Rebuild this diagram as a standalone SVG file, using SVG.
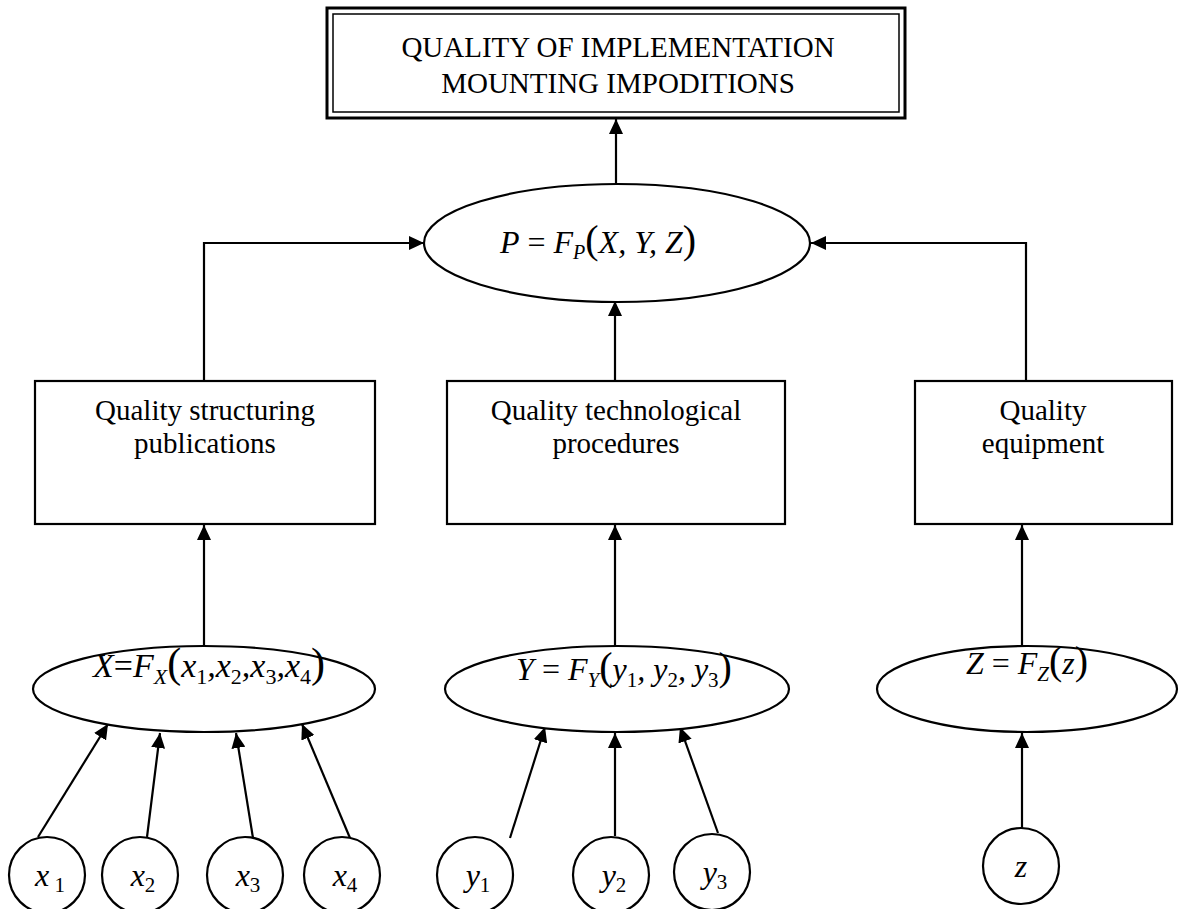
<svg xmlns="http://www.w3.org/2000/svg" width="1197" height="909" viewBox="0 0 1197 909">
<defs>
<marker id="ah" viewBox="0 0 15 14" refX="15" refY="7" markerWidth="15" markerHeight="14" markerUnits="userSpaceOnUse" orient="auto"><path d="M0,0 L15,7 L0,14 Z" fill="#000"/></marker>
</defs>
<style>
.ln{stroke:#000;stroke-width:2.2;fill:none;marker-end:url(#ah)}
.shape{fill:#fff;stroke:#000;stroke-width:2.2}
.t{font-family:"Liberation Serif","Times New Roman",serif;font-size:29px;fill:#000;text-anchor:middle}
.m{font-family:"Liberation Serif","Times New Roman",serif;font-style:italic;fill:#000;text-anchor:middle}
.n{font-style:normal}
</style>
<g id="connectors">
<line class="ln" x1="616" y1="183" x2="616" y2="119"/>
<polyline class="ln" points="204,381 204,243 424,243"/>
<polyline class="ln" points="1026,381 1026,243 811,243"/>
<line class="ln" x1="615" y1="381" x2="615" y2="301"/>
<line class="ln" x1="204" y1="647" x2="204" y2="525"/>
<line class="ln" x1="615" y1="647" x2="615" y2="525"/>
<line class="ln" x1="1022" y1="647" x2="1022" y2="525"/>
<line class="ln" x1="38" y1="837" x2="108" y2="724"/>
<line class="ln" x1="147" y1="837" x2="160" y2="733"/>
<line class="ln" x1="253" y1="838" x2="236" y2="733"/>
<line class="ln" x1="350" y1="838" x2="302" y2="724"/>
<line class="ln" x1="510" y1="838" x2="545" y2="727"/>
<line class="ln" x1="615" y1="836" x2="615" y2="733"/>
<line class="ln" x1="718" y1="833" x2="680" y2="727"/>
<line class="ln" x1="1022" y1="828" x2="1022" y2="733"/>
</g>
<g id="top">
<rect x="327" y="8" width="578" height="110" fill="#fff" stroke="#000" stroke-width="3"/>
<rect x="333" y="14" width="566" height="98" fill="none" stroke="#000" stroke-width="1.5"/>
<text class="t" x="618" y="57" font-size="30">QUALITY OF IMPLEMENTATION</text>
<text class="t" x="618" y="93" font-size="30">MOUNTING IMPODITIONS</text>
</g>
<g id="P">
<ellipse class="shape" cx="617" cy="243" rx="193" ry="59"/>
<text class="m" x="598" y="253" font-size="32">P<tspan class="n"> = </tspan>F<tspan dy="6" font-size="20">P</tspan><tspan dy="-6" class="n" font-size="40">(</tspan>X, Y, Z<tspan class="n" font-size="40">)</tspan></text>
</g>
<g id="box1">
<rect class="shape" x="35" y="381" width="340" height="143"/>
<text class="t" x="205" y="420">Quality structuring</text>
<text class="t" x="205" y="453">publications</text>
</g>
<g id="box2">
<rect class="shape" x="447" y="381" width="338" height="143"/>
<text class="t" x="616" y="420">Quality technological</text>
<text class="t" x="616" y="453">procedures</text>
</g>
<g id="box3">
<rect class="shape" x="915" y="381" width="257" height="143"/>
<text class="t" x="1043" y="420">Quality</text>
<text class="t" x="1043" y="453">equipment</text>
</g>
<g id="X">
<ellipse class="shape" cx="204" cy="689" rx="171" ry="43"/>
<text class="m" x="209" y="677" font-size="34">X<tspan class="n">=</tspan>F<tspan dy="7" font-size="22">X</tspan><tspan dy="-7" class="n" font-size="42">(</tspan>x<tspan dy="7" class="n" font-size="22">1</tspan><tspan dy="-7">,x</tspan><tspan dy="7" class="n" font-size="22">2</tspan><tspan dy="-7">,x</tspan><tspan dy="7" class="n" font-size="22">3</tspan><tspan dy="-7">,x</tspan><tspan dy="7" class="n" font-size="22">4</tspan><tspan dy="-7" class="n" font-size="42">)</tspan></text>
</g>
<g id="Y">
<ellipse class="shape" cx="617" cy="689" rx="172" ry="43"/>
<text class="m" x="624" y="680" font-size="32">Y<tspan class="n"> = </tspan>F<tspan dy="7" font-size="21">Y</tspan><tspan dy="-7" class="n" font-size="40">(</tspan>y<tspan dy="7" class="n" font-size="21">1</tspan><tspan dy="-7">, y</tspan><tspan dy="7" class="n" font-size="21">2</tspan><tspan dy="-7">, y</tspan><tspan dy="7" class="n" font-size="21">3</tspan><tspan dy="-7" class="n" font-size="40">)</tspan></text>
</g>
<g id="Z">
<ellipse class="shape" cx="1027" cy="689" rx="150" ry="43"/>
<text class="m" x="1027" y="674" font-size="32">Z<tspan class="n"> = </tspan>F<tspan dy="7" font-size="21">Z</tspan><tspan dy="-7" class="n" font-size="40">(</tspan>z<tspan class="n" font-size="40">)</tspan></text>
</g>
<g id="x1"><circle class="shape" cx="47" cy="875" r="38"/><text class="m" x="50" y="886" font-size="32">x<tspan class="n" font-size="21" dy="6">  1</tspan></text></g>
<g id="x2"><circle class="shape" cx="140" cy="875" r="38"/><text class="m" x="143" y="886" font-size="32">x<tspan class="n" font-size="21" dy="6">2</tspan></text></g>
<g id="x3"><circle class="shape" cx="245" cy="875" r="38"/><text class="m" x="248" y="886" font-size="32">x<tspan class="n" font-size="21" dy="6">3</tspan></text></g>
<g id="x4"><circle class="shape" cx="342" cy="875" r="38"/><text class="m" x="345" y="886" font-size="32">x<tspan class="n" font-size="21" dy="6">4</tspan></text></g>
<g id="y1"><circle class="shape" cx="475" cy="875" r="38"/><text class="m" x="478" y="886" font-size="32">y<tspan class="n" font-size="21" dy="6">1</tspan></text></g>
<g id="y2"><circle class="shape" cx="611" cy="875" r="38"/><text class="m" x="614" y="886" font-size="32">y<tspan class="n" font-size="21" dy="6">2</tspan></text></g>
<g id="y3"><circle class="shape" cx="712" cy="872" r="38"/><text class="m" x="715" y="883" font-size="32">y<tspan class="n" font-size="21" dy="6">3</tspan></text></g>
<g id="z"><circle class="shape" cx="1021" cy="866" r="38"/><text class="m" x="1021" y="877" font-size="32">z</text></g>
</svg>
